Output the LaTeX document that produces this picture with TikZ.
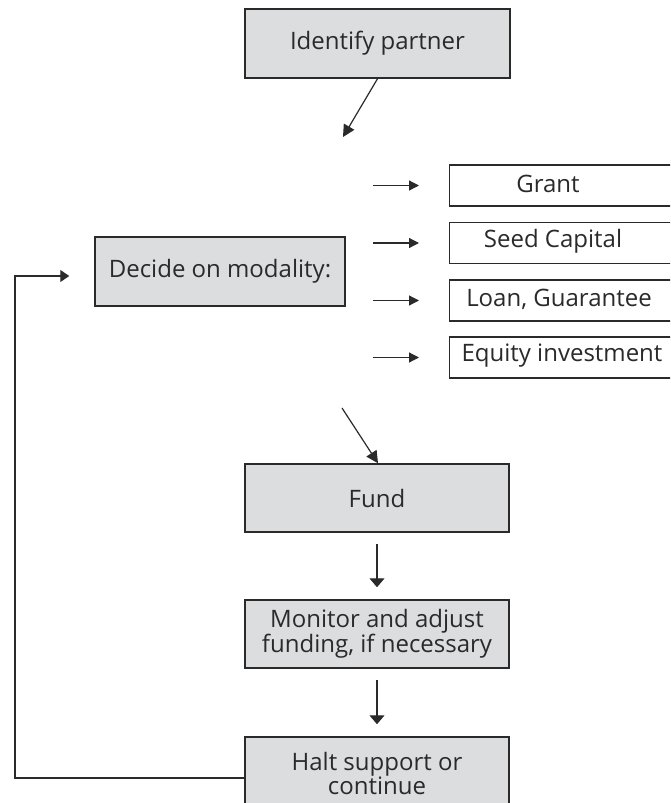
\documentclass[tikz,border=0pt]{standalone}
\usepackage{fontspec}
\setmainfont{Open Sans}
\usetikzlibrary{arrows.meta}
\definecolor{boxfill}{HTML}{DCDDDF}
\definecolor{ink}{HTML}{2A2A2A}
\begin{document}
\begin{tikzpicture}[x=1pt,y=-1pt,
  every node/.style={font=\fontsize{24}{25}\selectfont, text=ink},
  graybox/.style={draw=ink, fill=boxfill, line width=1.5pt, minimum width=265pt, minimum height=69pt, inner sep=0pt, align=center},
  optbox/.style={draw=ink, fill=white, line width=1.3pt, minimum width=240pt, minimum height=41pt, inner sep=0pt},
  conn/.style={draw=ink, line width=1.2pt, -{Triangle[length=10pt,width=10pt]}},
  vconn/.style={conn, -{Triangle[length=9pt,width=15pt]}},
  dconn/.style={conn, -{Triangle[length=12pt,width=12pt]}}]
\useasboundingbox (0,0) rectangle (670,803);
\begin{scope}
\clip (0,0) rectangle (670,803);
\node[graybox] (identify) at (377.5,43.5) {Identify partner};
\node[graybox, minimum width=250pt] (decide) at (220,271.5) {Decide on modality:};
\node[optbox, anchor=west] (grant) at (449,185.5) {};
\node[optbox, anchor=west] (seed) at (449,243) {};
\node[optbox, anchor=west] (loan) at (449,300.5) {};
\node[optbox, anchor=west] (equity) at (449,357.5) {};
\node (tgrant) at (548,184) {Grant};
\node (tseed) at (553,241.5) {Seed Capital};
\node (tloan) at (559,299) {Loan, Guarantee};
\node (tequity) at (562,356) {Equity investment};
\node[graybox, minimum width=264pt, minimum height=68pt] (fund) at (377,498) {Fund};
\node[graybox, minimum width=264pt, minimum height=68pt, font=\fontsize{24}{24}\selectfont] (monitor) at (377,634) {Monitor and adjust\\funding, if necessary};
\node[graybox, minimum width=264pt, minimum height=72pt, font=\fontsize{24}{24}\selectfont] (halt) at (377,773) {Halt support or\\continue};
\coordinate (p1) at (343,137);
\coordinate (p2) at (342,408);
\draw[dconn] (identify.south) -- (p1);
\draw[conn] ([xshift=-76pt]grant.west) -- ([xshift=-30pt]grant.west);
\draw[conn] ([xshift=-76pt]seed.west) -- ([xshift=-30pt]seed.west);
\draw[conn] ([xshift=-76pt]loan.west) -- ([xshift=-30pt]loan.west);
\draw[conn] ([xshift=-76pt]equity.west) -- ([xshift=-30pt]equity.west);
\draw[dconn] (p2) -- ([xshift=1pt]fund.north);
\draw[vconn, shorten <=11pt, shorten >=12pt] (fund.south) -- (monitor.north);
\draw[vconn, shorten <=11pt, shorten >=12pt] (monitor.south) -- (halt.north);
\draw[conn, -{Triangle[length=9pt,width=12pt]}] ([yshift=-5pt]halt.west) -| (15,276) -- ([xshift=-25pt,yshift=-4.5pt]decide.west);
\end{scope}
\end{tikzpicture}
\end{document}
